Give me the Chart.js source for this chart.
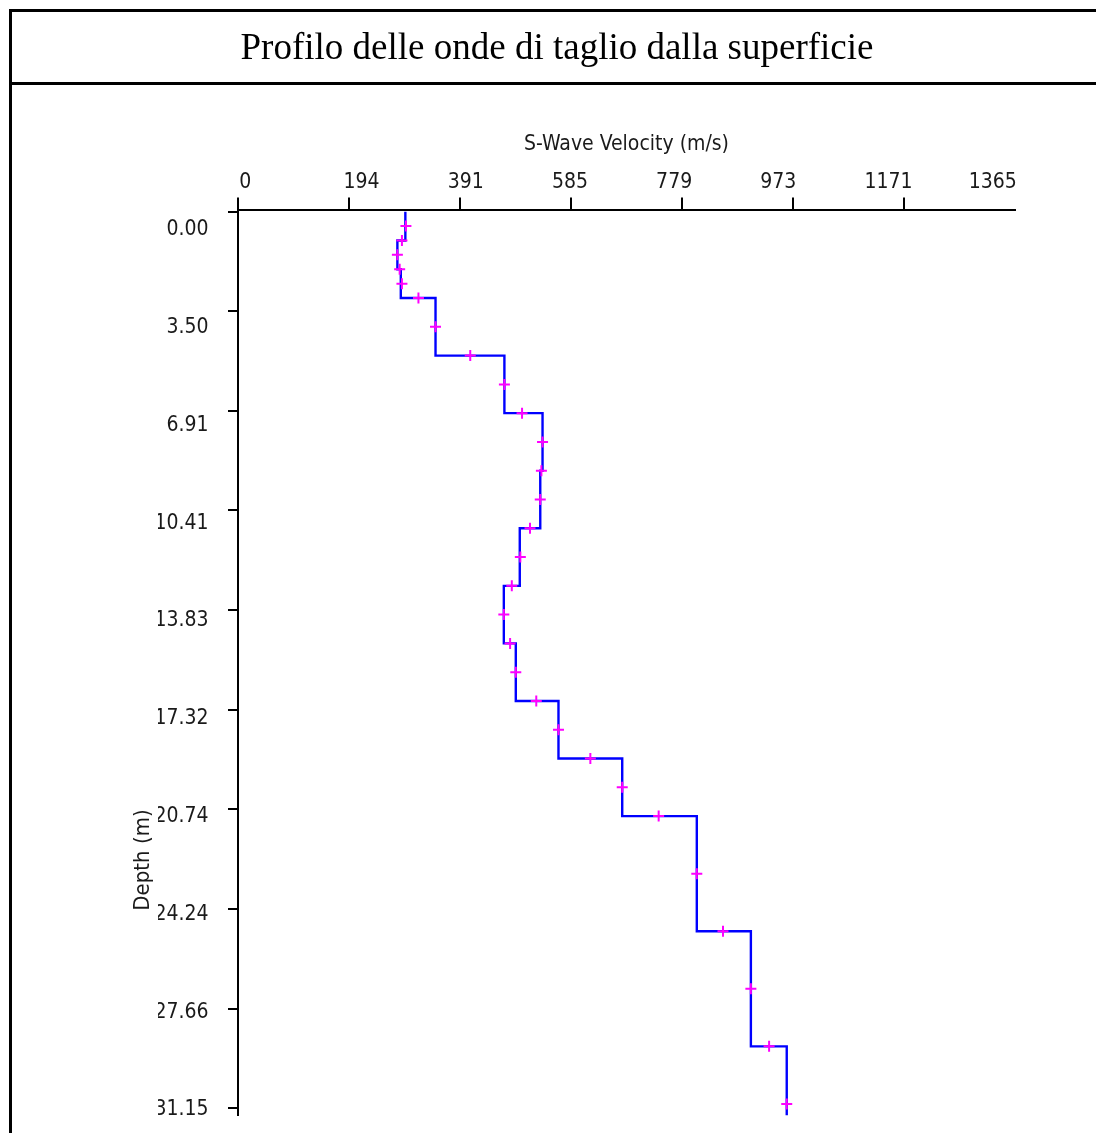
<!DOCTYPE html>
<html>
<head>
<meta charset="utf-8">
<script src="https://cdn.jsdelivr.net/npm/chart.js@4"></script>
<style>
html, body { margin: 0; padding: 0; background: #fff; overflow: hidden; width: 1096px; height: 1133px; }
#frame { position: absolute; left: 9px; top: 9px; width: 1098px; height: 1200px; border: 3px solid #000; box-sizing: border-box; }
#sep { position: absolute; left: 9px; top: 82px; width: 1098px; height: 3px; background: #000; }
#c { position: absolute; left: 12px; top: 12px; }
</style>
</head>
<body>
<div id="frame"></div>
<canvas id="c" width="1090" height="1121"></canvas>
<div id="sep"></div>
<script>
// ---- data ----
const layerTop    = [0, 1, 2, 3, 5, 7, 9, 11, 13, 15, 17, 19, 21, 25, 29];
const layerBottom = [1, 2, 3, 5, 7, 9, 11, 13, 15, 17, 19, 21, 25, 29, 31.4];
const layerVs     = [294, 280, 286, 347, 468, 535, 531, 495, 467, 488, 563, 675, 806, 901, 964];

const pointDepth = [0.5, 1, 1.5, 2, 2.5, 3, 4, 5, 6, 7, 8, 9, 10, 11, 12, 13, 14, 15, 16, 17, 18, 19, 20, 21, 23, 25, 27, 29, 31];
const pointVs    = [295, 288, 280, 284, 288, 317, 347, 408, 468, 499, 535, 533, 531, 513, 496, 481, 467, 478, 488, 524, 563, 619, 675, 739, 806, 852, 901, 933, 964];

const velTicks        = [0, 195, 390, 585, 780, 975, 1170, 1365];
const velTickLabels   = ['0', '194', '391', '585', '779', '973', '1171', '1365'];
const depthTicks      = [0, 3.46, 6.92, 10.38, 13.84, 17.31, 20.77, 24.23, 27.69, 31.15];
const depthTickLabels = ['0.00', '3.50', '6.91', '10.41', '13.83', '17.32', '20.74', '24.24', '27.66', '31.15'];

const chartTitle = 'Profilo delle onde di taglio dalla superficie';
const xTitle = 'S-Wave Velocity (m/s)';
const yTitle = 'Depth (m)';

// ---- build datasets from the arrays ----
const profile = [];
layerVs.forEach((v, i) => {
  profile.push({ x: v, y: layerTop[i] });
  profile.push({ x: v, y: layerBottom[i] });
});
const samples = pointVs.map((v, i) => ({ x: v, y: pointDepth[i] }));

const FONT = "'DejaVu Sans Condensed', 'DejaVu Sans', sans-serif";
const TXT = '#1a1a1a';

new Chart(document.getElementById('c'), {
  type: 'scatter',
  data: {
    datasets: [
      { label: 'Vs points', data: samples, showLine: false, pointStyle: 'cross', pointRadius: 5.5,
        pointBorderColor: '#ff00ff', pointBackgroundColor: '#ff00ff', pointBorderWidth: 2,
        xAxisID: 'x', yAxisID: 'y' },
      { label: 'Vs profile', data: profile, showLine: true, borderColor: '#0000ff', borderWidth: 2.4,
        pointRadius: 0, fill: false, tension: 0, xAxisID: 'x', yAxisID: 'y' }
    ]
  },
  options: {
    responsive: false, animation: false, devicePixelRatio: 1,
    layout: { padding: { top: 0, left: 0, right: 0, bottom: 17.6 } },
    plugins: {
      legend: { display: false }, tooltip: { enabled: false },
      title: { display: true, text: chartTitle, color: '#000',
        font: { family: "'Liberation Serif', 'Times New Roman', serif", size: 37, weight: 'normal', lineHeight: 1.2 },
        padding: { top: 14.8, bottom: 57.2 } }
    },
    scales: {
      x: { type: 'linear', position: 'top', min: 0, max: 1365, weight: 0,
        afterBuildTicks: s => { s.ticks = velTicks.filter(v => v < s.max).map(v => ({ value: v })); },
        ticks: { display: false },
        grid: { display: true, drawOnChartArea: false, drawTicks: true, tickLength: 12, color: '#000', lineWidth: 2 },
        border: { display: true, color: '#000', width: 2 } },
      x2: { type: 'linear', position: 'top', min: -0.0125, max: 7.444, weight: 1,
        afterBuildTicks: s => { s.ticks = velTickLabels.map((_, i) => ({ value: i })); },
        ticks: { display: true, autoSkip: false, align: 'start', maxRotation: 0, minRotation: 0, padding: 0, color: TXT,
          font: { family: FONT, size: 21 }, callback: (v, i) => velTickLabels[i] },
        grid: { display: false, drawTicks: true, tickLength: 1.9 },
        border: { display: false },
        title: { display: true, text: xTitle, color: TXT, font: { family: FONT, size: 21 }, padding: { top: 4, bottom: 12.8 } } },
      y: { type: 'linear', position: 'left', reverse: true, min: -0.0764, max: 31.4, weight: 0,
        afterBuildTicks: s => { s.ticks = depthTicks.map(v => ({ value: v })); },
        ticks: { display: false },
        grid: { display: true, drawOnChartArea: false, drawTicks: true, tickLength: 10, color: '#000', lineWidth: 2 },
        border: { display: true, color: '#000', width: 2 } },
      y2: { type: 'linear', position: 'left', reverse: true, min: -0.2065, max: 9.056, weight: 1,
        afterBuildTicks: s => { s.ticks = depthTickLabels.map((_, i) => ({ value: i })); },
        ticks: { display: true, autoSkip: false, padding: 0, color: TXT, font: { family: FONT, size: 21 },
          callback: (v, i) => depthTickLabels[i] },
        grid: { display: false, drawTicks: true, tickLength: 19.5 },
        border: { display: false },
        afterFit: s => { s.width = 70; } },
      yt: { type: 'linear', position: 'left', weight: 2, stack: 'ttl', stackWeight: 510.8,
        ticks: { display: false }, grid: { display: false, drawTicks: false }, border: { display: false },
        title: { display: true, text: yTitle, color: TXT, font: { family: FONT, size: 22 }, padding: { top: 117.6, bottom: 2 } } },
      yd: { type: 'linear', position: 'left', weight: 2, stack: 'ttl', stackWeight: 395.1,
        ticks: { display: false }, grid: { display: false, drawTicks: false }, border: { display: false } },
      yr: { type: 'linear', position: 'right', weight: 0,
        ticks: { display: false }, grid: { display: false, drawTicks: false }, border: { display: false },
        afterFit: s => { s.width = 87; } }
    }
  }
});
</script>
</body>
</html>
